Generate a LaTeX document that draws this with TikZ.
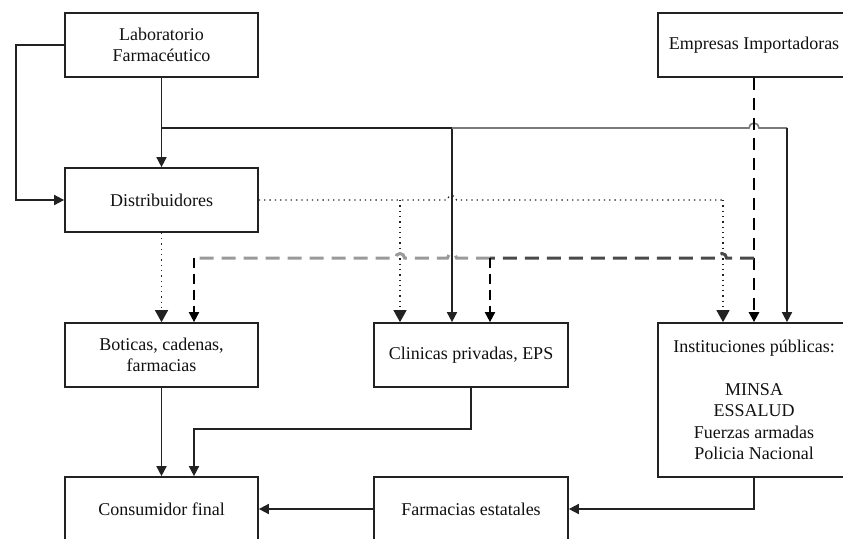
\documentclass[tikz,border=0pt]{standalone}
\usepackage{fontspec}
\setmainfont{Liberation Serif}
\usetikzlibrary{arrows.meta}
\definecolor{ink}{HTML}{111111}
\definecolor{linedark}{HTML}{222222}
\definecolor{linegray}{HTML}{7A7A7A}
\definecolor{dashdark}{HTML}{4A4A4A}
\definecolor{dashlight}{HTML}{9A9A9A}
\begin{document}
\begin{tikzpicture}[x=1pt,y=-1pt,
  box/.style={draw=linedark,line width=1.7pt,minimum height=64pt,minimum width=193pt,
    inner sep=0pt,align=center,text=ink,font=\fontsize{18}{21.5}\selectfont},
  flow/.style={draw=linedark,line width=1.6pt},
  tip/.style={-{Triangle[length=10pt,width=10pt]}},
  bigtip/.style={-{Triangle[length=12pt,width=13pt]}},
  dots/.style={draw=linedark,line width=1.3pt,dash pattern=on 1.3pt off 4pt},
  longdash/.style={draw=black,line width=2.6pt,dash pattern=on 12pt off 8pt},
  hdash/.style={line width=3pt,dash pattern=on 14pt off 8pt},
  branchdash/.style={draw=black,line width=1.8pt,dash pattern=on 10pt off 6pt},
]
\clip (0,0) rectangle (843,538);
\fill[white] (0,0) rectangle (843,538);

% boxes
\node[box] (lab) at (161.5,45) {Laboratorio\\Farmacéutico};
\node[box] (dist) at (161.5,200) {Distribuidores};
\node[box] (bot) at (161.5,355) {Boticas, cadenas,\\farmacias};
\node[box] (cons) at (161.5,509) {Consumidor final};
\node[box,minimum width=194pt] (cli) at (471,355) {Clinicas privadas, EPS};
\node[box,minimum width=194pt] (farm) at (471,509) {Farmacias estatales};
\node[box,minimum width=192pt] (emp) at (754,45) {Empresas Importadoras};
\node[box,minimum width=192pt,minimum height=154pt] (inst) at (754,400)
  {Instituciones públicas:\\[21.5pt]MINSA\\ESSALUD\\Fuerzas armadas\\Policia Nacional};

% laboratory outputs (solid)
\draw[flow,tip] (lab.south) -- (dist.north);
\draw[flow,tip] (lab.west) -- ++(-48,0) |- (dist.west);
\coordinate (j1) at (161.5,128);
\coordinate (cS) at (452,128);
\coordinate (iS) at (787,128);
\draw[flow] (j1) -- (cS);
\draw[flow,tip] (cS) -- (cS |- cli.north);
\draw[draw=linegray,line width=1.6pt] (cS) -- (749,128) arc (180:360:5) -- (iS);
\draw[flow,tip] (iS) -- (iS |- inst.north);

% distributor outputs (dotted)
\coordinate (dR) at (723,200);
\coordinate (dC) at (400,200);
\draw[dots] (dist.east) -- (447.5,200) arc (180:360:4.5) -- (dR);
\draw[dots,bigtip] (dR) -- (dR |- inst.north);
\draw[dots,bigtip] (dC) -- (dC |- cli.north);
\draw[dots,bigtip] (dist.south) -- (bot.north);

% importer outputs (dashed)
\draw[longdash,tip] (emp.south) -- (inst.north);
\coordinate (dj) at (754,258);
\coordinate (dC2) at (490,258);
\coordinate (dB) at (194,258);
\draw[hdash,draw=dashdark] (dj) -- (726.5,258) arc (0:-180:4.5) -- (dC2);
\draw[hdash,draw=dashlight] (dC2) -- (456.5,258) arc (0:-180:4.5) -- (404.5,258)
  arc (0:-180:4.5) -- (dB);
\draw[branchdash,tip] (dC2) -- (dC2 |- cli.north);
\draw[branchdash,tip] (dB) -- (dB |- bot.north);

% flows to the final consumer
\draw[flow,tip] (bot.south) -- (cons.north);
\coordinate (cT) at (194,429);
\draw[flow,tip] (cli.south) |- (cT) -- (cT |- cons.north);
\draw[flow,tip] (farm.west) -- (cons.east);
\draw[flow,tip] (inst.south) |- (farm.east);
\end{tikzpicture}
\end{document}
